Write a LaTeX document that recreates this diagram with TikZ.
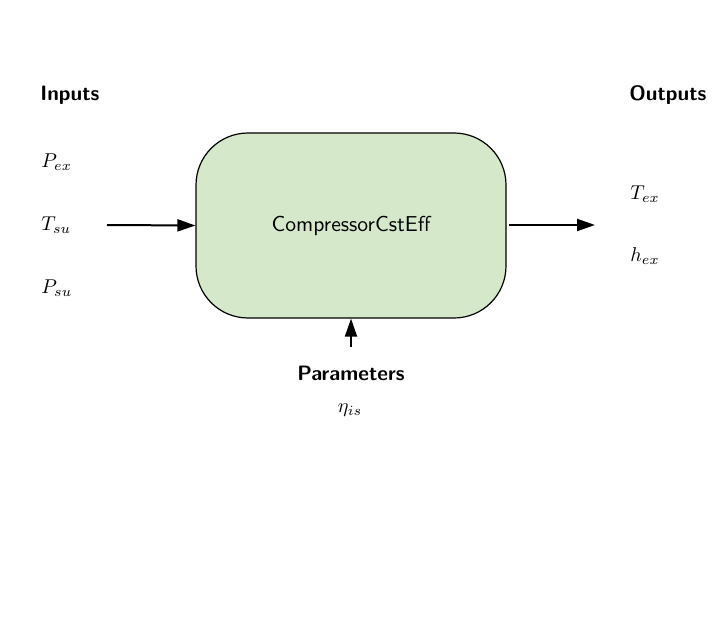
\documentclass[tikz,border=0pt]{standalone}
\usetikzlibrary{arrows.meta}

\begin{document}
\begin{tikzpicture}[x=0.5pt,y=-0.5pt]

      \useasboundingbox (0,0) rectangle (716,636);

      \node (box) at (351,225.5) [draw,line width=0.6pt,fill={rgb,255:red,213;green,232;blue,202},
        rounded corners=26pt,minimum width=155pt,minimum height=92.5pt,inner sep=0pt]
        {\fontsize{10.8}{13}\sffamily CompressorCstEff};

      \begin{scope}[every node/.style={anchor=west,inner sep=0pt}]
        \node (inputs)  at (40,95)   {\fontsize{10.4}{12}\sffamily\bfseries Inputs};
        \node (pex)     at (41,162)  {$P_{ex}$};
        \node (tsu)     at (41,225)  {$T_{su}$};
        \node (psu)     at (41,288)  {$P_{su}$};
        \node (outputs) at (629,95)  {\fontsize{10.4}{12}\sffamily\bfseries Outputs};
        \node (tex)     at (630,194) {$T_{ex}$};
        \node (hex)     at (630,256) {$h_{ex}$};
      \end{scope}

      \begin{scope}[every node/.style={inner sep=0pt}]
        \node (params) at (351,373) {\fontsize{10.4}{12}\sffamily\bfseries Parameters};
        \node (etais)  at (350,410) {$\eta_{is}$};
      \end{scope}

      \coordinate (in)    at (107,225);
      \coordinate (out)   at (595,225);
      \coordinate (parin) at (351,347);

      \begin{scope}[every edge/.style={draw,line width=1pt,-{Triangle[length=9pt,width=6pt]}}]
        \path (in)    edge (box.west);
        \path (box.east |- in) ++(2.5,0) coordinate (boxout);
        \path (boxout) edge (out);
        \path (parin) edge (box.south);
      \end{scope}

    \end{tikzpicture}
\end{document}
